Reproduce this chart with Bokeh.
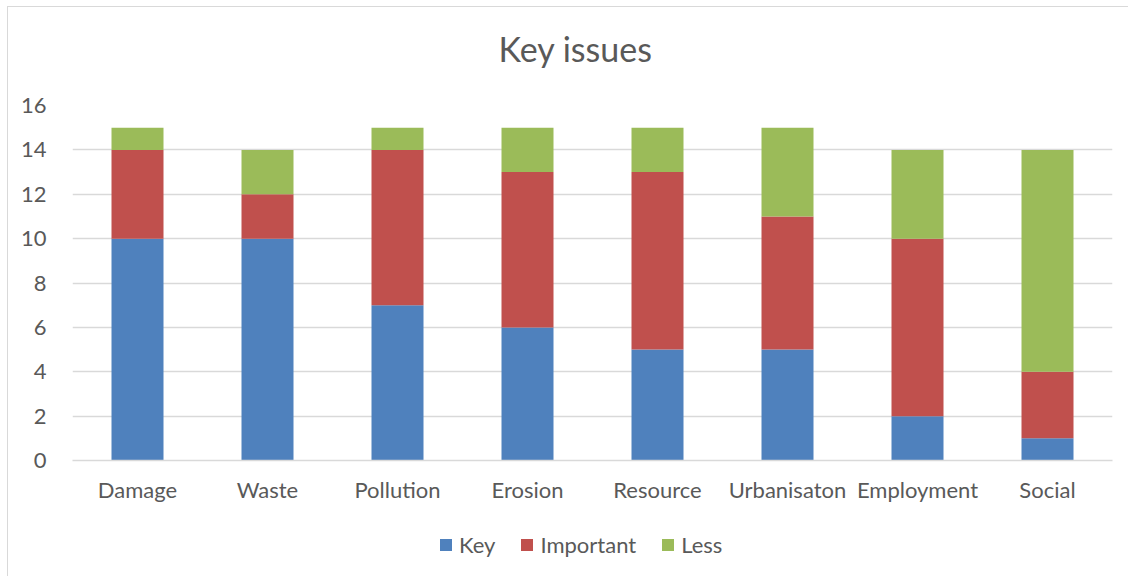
from bokeh.plotting import figure
from bokeh.layouts import column
from bokeh.models import (FactorRange, Range1d, FixedTicker, Legend, LegendItem,
                          Label, ColumnDataSource)
from bokeh.embed import file_html
from bokeh.resources import INLINE

categories = ["Damage", "Waste", "Pollution", "Erosion", "Resource",
              "Urbanisaton", "Employment", "Social"]
key = [10, 10, 7, 6, 5, 5, 2, 1]
important = [4, 2, 7, 7, 8, 6, 8, 3]
less = [1, 2, 1, 2, 2, 4, 4, 10]
series = ["Key", "Important", "Less"]
colors = ["#4F81BD", "#C0504D", "#9BBB59"]
y_ticks = [0, 2, 4, 6, 8, 10, 12, 14, 16]

FONT = "Lato"
TEXT = "#595959"
GRID = "#d9d9d9"
W = 1120

source = ColumnDataSource(dict(cat=categories, Key=key, Important=important, Less=less))


def strip(fig):
    """Blank canvas: no axes, grid or outline."""
    fig.outline_line_color = None
    fig.grid.visible = False
    fig.min_border = 0
    return fig


# --- title strip -----------------------------------------------------------
head = strip(figure(width=W, height=70, x_range=Range1d(0, 1), y_range=Range1d(0, 1),
                    x_axis_location=None, y_axis_location=None,
                    output_backend="svg", toolbar_location=None))
head.add_layout(Label(x=426, y=29, x_units="screen", y_units="screen",
                      text="Key issues", text_font=FONT, text_font_size="34px",
                      text_color=TEXT, text_baseline="alphabetic"))

# --- stacked bars ------------------------------------------------------------
p = figure(
    x_range=FactorRange(factors=categories, range_padding=0),
    y_range=Range1d(0, 16),
    width=W, height=440,
    output_backend="svg", toolbar_location=None,
    min_border_left=64, min_border_right=16, min_border_top=28, min_border_bottom=57,
)
p.outline_line_color = None

p.vbar_stack(series, x="cat", width=0.4, color=colors, line_color=None, source=source)

p.yaxis.ticker = FixedTicker(ticks=y_ticks)
p.yaxis.axis_line_color = None
p.yaxis.major_tick_line_color = None
p.yaxis.minor_tick_line_color = None
p.yaxis.major_label_standoff = 20
p.yaxis.major_label_text_font = FONT
p.yaxis.major_label_text_font_size = "22px"
p.yaxis.major_label_text_color = TEXT

p.xaxis.axis_line_color = GRID
p.xaxis.axis_line_width = 1.5
p.xaxis.major_tick_line_color = None
p.xaxis.minor_tick_line_color = None
p.xaxis.major_label_standoff = 9
p.xaxis.major_label_text_font = FONT
p.xaxis.major_label_text_font_size = "22px"
p.xaxis.major_label_text_color = TEXT

p.xgrid.grid_line_color = None
p.ygrid.grid_line_color = GRID
p.ygrid.grid_line_width = 1.5

# --- legend strip ------------------------------------------------------------
foot = strip(figure(width=W, height=59,
                    x_range=FactorRange(factors=categories, range_padding=0),
                    y_range=Range1d(100, 101),
                    x_axis_location=None, y_axis_location=None,
                    output_backend="svg", toolbar_location=None))
swatches = foot.vbar_stack(series, x="cat", width=0.4, color=colors,
                           line_color=None, source=source)
legend = Legend(
    items=[LegendItem(label=s, renderers=[r]) for s, r in zip(series, swatches)],
    orientation="horizontal", location=(366, 18),
    label_text_font=FONT, label_text_font_size="22px", label_text_color=TEXT,
    glyph_width=15, glyph_height=15, label_standoff=6, spacing=24,
    border_line_color=None, background_fill_alpha=0, margin=0, padding=0,
)
foot.add_layout(legend, "center")

layout = column(head, p, foot, spacing=0,
                styles={"margin-left": "7px", "margin-top": "6px",
                        "border-left": "1px solid #d9d9d9",
                        "border-top": "1px solid #d9d9d9"})

open("out.html", "w").write(file_html(layout, INLINE))
